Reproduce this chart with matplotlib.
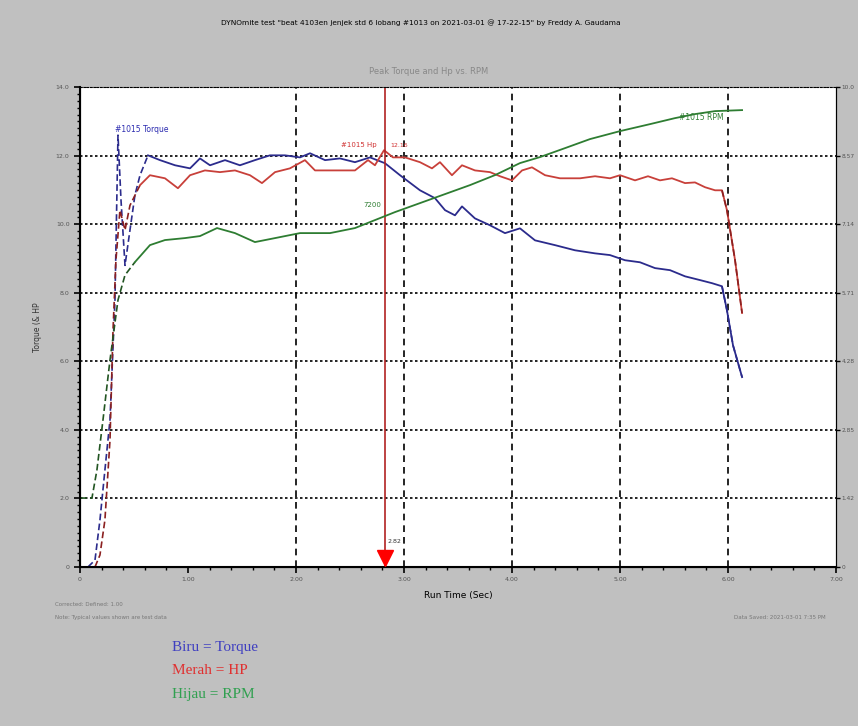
import numpy as np
import matplotlib.pyplot as plt
from matplotlib.ticker import AutoMinorLocator

# run time (sec) and values
t_torque = [0.074, 0.139, 0.185, 0.231, 0.278, 0.324, 0.352, 0.38, 0.417, 0.463, 0.509, 0.556, 0.63,
            0.741, 0.88, 1.019, 1.111, 1.204, 1.343, 1.481, 1.62, 1.759, 1.898, 2.037, 2.13, 2.269,
            2.407, 2.546, 2.685, 2.824, 2.963, 3.148, 3.287, 3.38, 3.472, 3.537, 3.657, 3.796, 3.935,
            4.074, 4.213, 4.398, 4.583, 4.769, 4.907, 5.046, 5.185, 5.324, 5.463, 5.602, 5.741, 5.852,
            5.944, 5.99, 6.046, 6.13]
torque = [0, 0.2, 1.37, 2.83, 4.29, 7.78, 12.6, 10.7, 8.8, 9.83, 10.85, 11.43, 12.01,
          11.87, 11.72, 11.63, 11.92, 11.72, 11.87, 11.72, 11.87, 12.01, 12.01, 11.95, 12.07, 11.87,
          11.92, 11.81, 11.95, 11.78, 11.43, 10.99, 10.76, 10.41, 10.26, 10.52, 10.17, 9.97, 9.74,
          9.88, 9.53, 9.39, 9.24, 9.15, 9.1, 8.95, 8.89, 8.72, 8.66, 8.48, 8.37, 8.28,
          8.19, 7.49, 6.47, 5.54]

t_hp = [0.139, 0.185, 0.231, 0.278, 0.306, 0.333, 0.37, 0.417, 0.463, 0.556, 0.648, 0.787, 0.907,
        1.019, 1.157, 1.296, 1.435, 1.574, 1.685, 1.806, 1.944, 2.083, 2.176, 2.361, 2.546, 2.667,
        2.731, 2.815, 2.898, 3.009, 3.148, 3.259, 3.333, 3.444, 3.537, 3.657, 3.796, 3.889, 4.0,
        4.093, 4.185, 4.306, 4.444, 4.63, 4.769, 4.907, 5.0, 5.139, 5.259, 5.37, 5.481, 5.602,
        5.694, 5.787, 5.88, 5.944, 5.99, 6.065, 6.13]
hp = [0, 0.35, 1.37, 3.7, 6.91, 8.95, 10.41, 9.83, 10.55, 11.14, 11.43, 11.34, 11.05,
      11.43, 11.57, 11.52, 11.57, 11.43, 11.2, 11.52, 11.63, 11.87, 11.57, 11.57, 11.57, 11.87,
      11.72, 12.16, 11.95, 11.95, 11.81, 11.63, 11.81, 11.43, 11.72, 11.57, 11.52, 11.4, 11.28,
      11.57, 11.66, 11.43, 11.34, 11.34, 11.4, 11.34, 11.43, 11.28, 11.4, 11.28, 11.34, 11.2,
      11.22, 11.08, 10.99, 10.99, 10.41, 8.95, 7.41]

t_rpm = [0, 0.111, 0.157, 0.213, 0.278, 0.352, 0.417, 0.509, 0.648, 0.787, 0.972, 1.111, 1.269,
         1.435, 1.62, 1.806, 2.037, 2.315, 2.546, 2.731, 2.917, 3.148, 3.38, 3.611, 3.843, 4.074,
         4.259, 4.491, 4.722, 5.0, 5.278, 5.509, 5.694, 5.88, 6.13]
rpm = [1437, 1437, 2021, 3063, 4313, 5563, 6083, 6354, 6708, 6813, 6854, 6896, 7063,
       6958, 6771, 6854, 6958, 6958, 7063, 7229, 7396, 7583, 7771, 7958, 8167, 8417,
       8542, 8729, 8917, 9083, 9229, 9354, 9438, 9500, 9521]

left_ticks = [0, 2, 4, 6, 8, 10, 12, 14]
left_labels = ['0', '2.0', '4.0', '6.0', '8.0', '10.0', '12.0', '14.0']
right_labels = ['0', '1.42', '2.85', '4.28', '5.71', '7.14', '8.57', '10.0']
x_ticks = [0, 1, 2, 3, 4, 5, 6, 7]
x_labels = ['0', '1.00', '2.00', '3.00', '4.00', '5.00', '6.00', '7.00']
peak_time = 2.82
dash_end = 0.63

fig = plt.figure(figsize=(8.58, 7.26), dpi=100, facecolor='#c0c0c0')
ax = fig.add_axes([0.0932, 0.219, 0.8812, 0.661])
ax.set_facecolor('white')
ax2 = ax.twinx()

def draw(a, t, v, col, dcol):
    t = np.array(t)
    v = np.array(v)
    early = t <= dash_end
    a.plot(t[early], v[early], color=dcol, lw=1.2, ls=(0, (4, 2)))
    late = t >= t[early][-1]
    a.plot(t[late], v[late], color=col, lw=1.3)

draw(ax, t_torque, torque, '#2b2b8c', '#2b2b8c')
draw(ax, t_hp, hp, '#c8403a', '#8b2020')
draw(ax2, t_rpm, rpm, '#2e7d32', '#225522')

# final drop drawn dashed
ax.plot(t_torque[-4:], torque[-4:], color='#2b2b8c', lw=1.2, ls=(0, (4, 2)))
ax.plot(t_hp[-4:], hp[-4:], color='#8b2020', lw=1.2, ls=(0, (4, 2)))

ax.set_xlim(0, 7)
ax.set_ylim(0, 14)
ax2.set_ylim(0, 10000)
ax.set_xticks(x_ticks)
ax.set_xticklabels(x_labels, fontsize=4.5, color='#555555')
ax.set_yticks(left_ticks)
ax.set_yticklabels(left_labels, fontsize=4.5, color='#555555')
ax2.set_yticks(np.linspace(0, 10000, 8))
ax2.set_yticklabels(right_labels, fontsize=4.2, color='#555555')
ax.xaxis.set_minor_locator(AutoMinorLocator(5))
ax.yaxis.set_minor_locator(AutoMinorLocator(10))
ax.tick_params(which='major', length=4, width=1.2)
ax.tick_params(which='minor', length=2, width=1)
ax2.tick_params(length=3, width=1, pad=1)

for v in left_ticks[1:]:
    ax.axhline(v, color='black', lw=1.2, ls=(0, (1.5, 1.5)), zorder=0)
for x in [2, 3, 4, 5, 6]:
    ax.axvline(x, color='black', lw=1.2, ls=(0, (4, 3)), zorder=0)

ax.spines['top'].set_linestyle((0, (1.5, 1.5)))
for s in ['left', 'bottom']:
    ax.spines[s].set_linewidth(1.5)
ax2.spines['top'].set_visible(False)

# peak marker
ax.axvline(peak_time, color='#b22222', lw=1.2)
ax.plot([peak_time], [0.25], marker='v', color='red', ms=11, clip_on=False, zorder=5)
ax.text(peak_time + 0.03, 0.7, '2.82', fontsize=4.5, color='#333333')

ax.text(0.32, 12.7, '#1015 Torque', fontsize=5.5, color='#2b2bb0')
ax.text(2.42, 12.25, '#1015 Hp', fontsize=5, color='#d03030')
ax.text(2.87, 12.25, '12.16', fontsize=4.5, color='#d03030')
ax.text(2.62, 10.5, '7200', fontsize=5, color='#2e7d32')
ax.text(5.55, 13.05, '#1015 RPM', fontsize=5.5, color='#2e7d32')

ax.set_xlabel('Run Time (Sec)', fontsize=6.5, labelpad=6)
ax.set_ylabel('Torque (& HP', fontsize=5.5, color='#333333', labelpad=10)

fig.text(0.49, 0.966, 'DYNOmite test "beat 4103en jenjek std 6 lobang #1013 on 2021-03-01 @ 17-22-15" by Freddy A. Gaudama',
         ha='center', fontsize=5.3)
fig.text(0.5, 0.898, 'Peak Torque and Hp vs. RPM', ha='center', fontsize=6, color='#888888')
fig.text(0.064, 0.165, 'Corrected: Defined: 1.00', fontsize=4, color='#777777')
fig.text(0.064, 0.148, 'Note: Typical values shown are test data', fontsize=4, color='#777777')
fig.text(0.855, 0.148, 'Data Saved: 2021-03-01 7:35 PM', fontsize=4, color='#777777')

serif = ['Liberation Serif', 'DejaVu Serif']
fig.text(0.2, 0.103, 'Biru = Torque', fontsize=11, color='#4040c0', family=serif)
fig.text(0.2, 0.071, 'Merah = HP', fontsize=11, color='#e03030', family=serif)
fig.text(0.2, 0.039, 'Hijau = RPM', fontsize=11, color='#30a050', family=serif)

fig.savefig('out.png', dpi=100, facecolor=fig.get_facecolor())
